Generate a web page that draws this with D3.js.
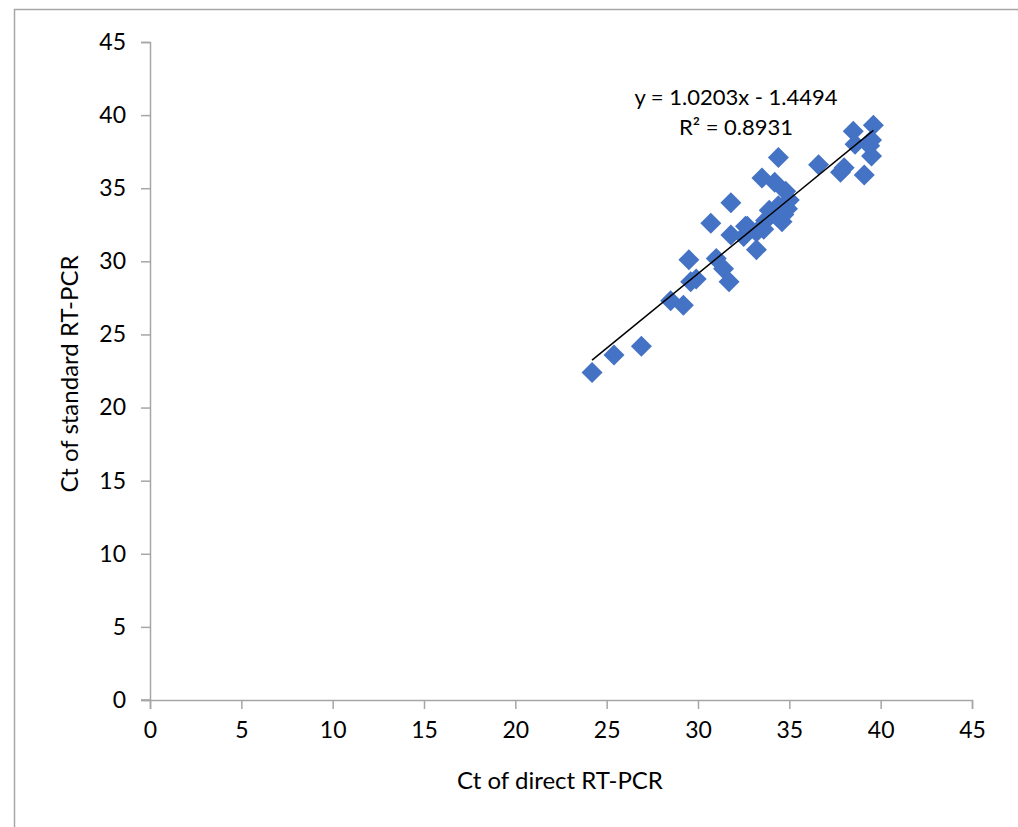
<!DOCTYPE html>
<html>
<head>
<meta charset="utf-8">
<script src="https://cdn.jsdelivr.net/npm/d3@7"></script>
<style>
  body { margin: 0; background: #fff; }
  text { font-family: Lato, "Open Sans", sans-serif; fill: #000; }
</style>
</head>
<body>
<script>
const w = 1018;
const h = 827;

// Ct values
const directCt = [24.2, 25.4, 26.9, 28.5, 29.2, 29.5, 29.6, 29.9, 30.7, 31.0,
  31.4, 31.7, 31.8, 31.8, 32.5, 32.6, 32.7, 33.2, 33.2, 33.5, 33.7, 33.9, 34.2,
  34.3, 34.4, 34.6, 34.8, 34.9, 35.0, 34.4, 34.7, 36.6, 37.8, 38.0, 38.5, 38.6,
  39.1, 39.4, 39.5, 39.6, 39.5, 33.6];
const standardCt = [22.4, 23.6, 24.2, 27.3, 27.0, 30.1, 28.6, 28.8, 32.6, 30.2,
  29.5, 28.6, 34.0, 31.8, 31.7, 32.4, 32.4, 32.0, 30.8, 35.7, 32.8, 33.5, 35.4,
  33.1, 37.1, 32.7, 34.8, 33.6, 34.2, 33.8, 33.2, 36.6, 36.1, 36.4, 38.9, 38.0,
  35.9, 37.9, 37.2, 39.3, 38.3, 32.2];
const ticks = [0, 5, 10, 15, 20, 25, 30, 35, 40, 45];
const slope = 1.0203;
const intercept = -1.4494;
const rSquared = 0.8931;

const points = directCt.map((x, i) => ({ x: x, y: standardCt[i] }));

const svg = d3.select("body").append("svg").attr("width", w).attr("height", h);

// chart frame
svg.append("rect")
  .attr("x", 14.5).attr("y", 9.5)
  .attr("width", w + 20).attr("height", h + 20)
  .attr("fill", "none").attr("stroke", "#a6a6a6").attr("stroke-width", 1.5);

const xScale = d3.scaleLinear().domain([0, 45]).range([150, 972]);
const yScale = d3.scaleLinear().domain([0, 45]).range([700, 42]);

const xAxis = d3.axisBottom(xScale).tickValues(ticks).tickSizeOuter(0).tickSize(9).tickPadding(13);
const yAxis = d3.axisLeft(yScale).tickValues(ticks).tickSizeOuter(0).tickSize(9).tickPadding(15);

const gx = svg.append("g").attr("transform", "translate(0," + 700 + ")").call(xAxis);
const gy = svg.append("g").attr("transform", "translate(" + 150 + ",0)").call(yAxis);

[gx, gy].forEach(g => {
  g.select(".domain").attr("stroke", "#a6a6a6").attr("stroke-width", 1.5);
  g.selectAll(".tick line").attr("stroke", "#a6a6a6").attr("stroke-width", 1.5);
  g.selectAll(".tick text").style("font-size", "23px").attr("fill", "#000");
});
// x axis line reaches the y tick at 0
gx.append("line").attr("x1", 141).attr("x2", 150).attr("y1", 0).attr("y2", 0)
  .attr("stroke", "#a6a6a6").attr("stroke-width", 1.5);

// diamond markers
svg.append("g").selectAll("path")
  .data(points)
  .enter()
  .append("path")
  .attr("d", "M0,-10.5L10.5,0L0,10.5L-10.5,0Z")
  .attr("transform", d => "translate(" + xScale(d.x) + "," + yScale(d.y) + ")")
  .attr("fill", "#4472c4");

// linear trendline
const xMin = d3.min(directCt);
const xMax = d3.max(directCt);
svg.append("line")
  .attr("x1", xScale(xMin)).attr("y1", yScale(slope * xMin + intercept))
  .attr("x2", xScale(xMax)).attr("y2", yScale(slope * xMax + intercept))
  .attr("stroke", "#000").attr("stroke-width", 1.5);

// equation label
svg.append("text")
  .attr("x", 736).attr("y", 105)
  .attr("text-anchor", "middle")
  .style("font-size", "22px")
  .text("y = " + slope + "x - " + Math.abs(intercept));

svg.append("text")
  .attr("x", 736).attr("y", 135)
  .attr("text-anchor", "middle")
  .style("font-size", "22px")
  .text("R² = " + rSquared);

// axis titles
svg.append("text")
  .attr("x", 560).attr("y", 789)
  .attr("text-anchor", "middle")
  .style("font-size", "24px")
  .text("Ct of direct RT-PCR");

svg.append("text")
  .attr("transform", "translate(78,374) rotate(-90)")
  .attr("text-anchor", "middle")
  .style("font-size", "24px")
  .text("Ct of standard RT-PCR");
</script>
</body>
</html>
